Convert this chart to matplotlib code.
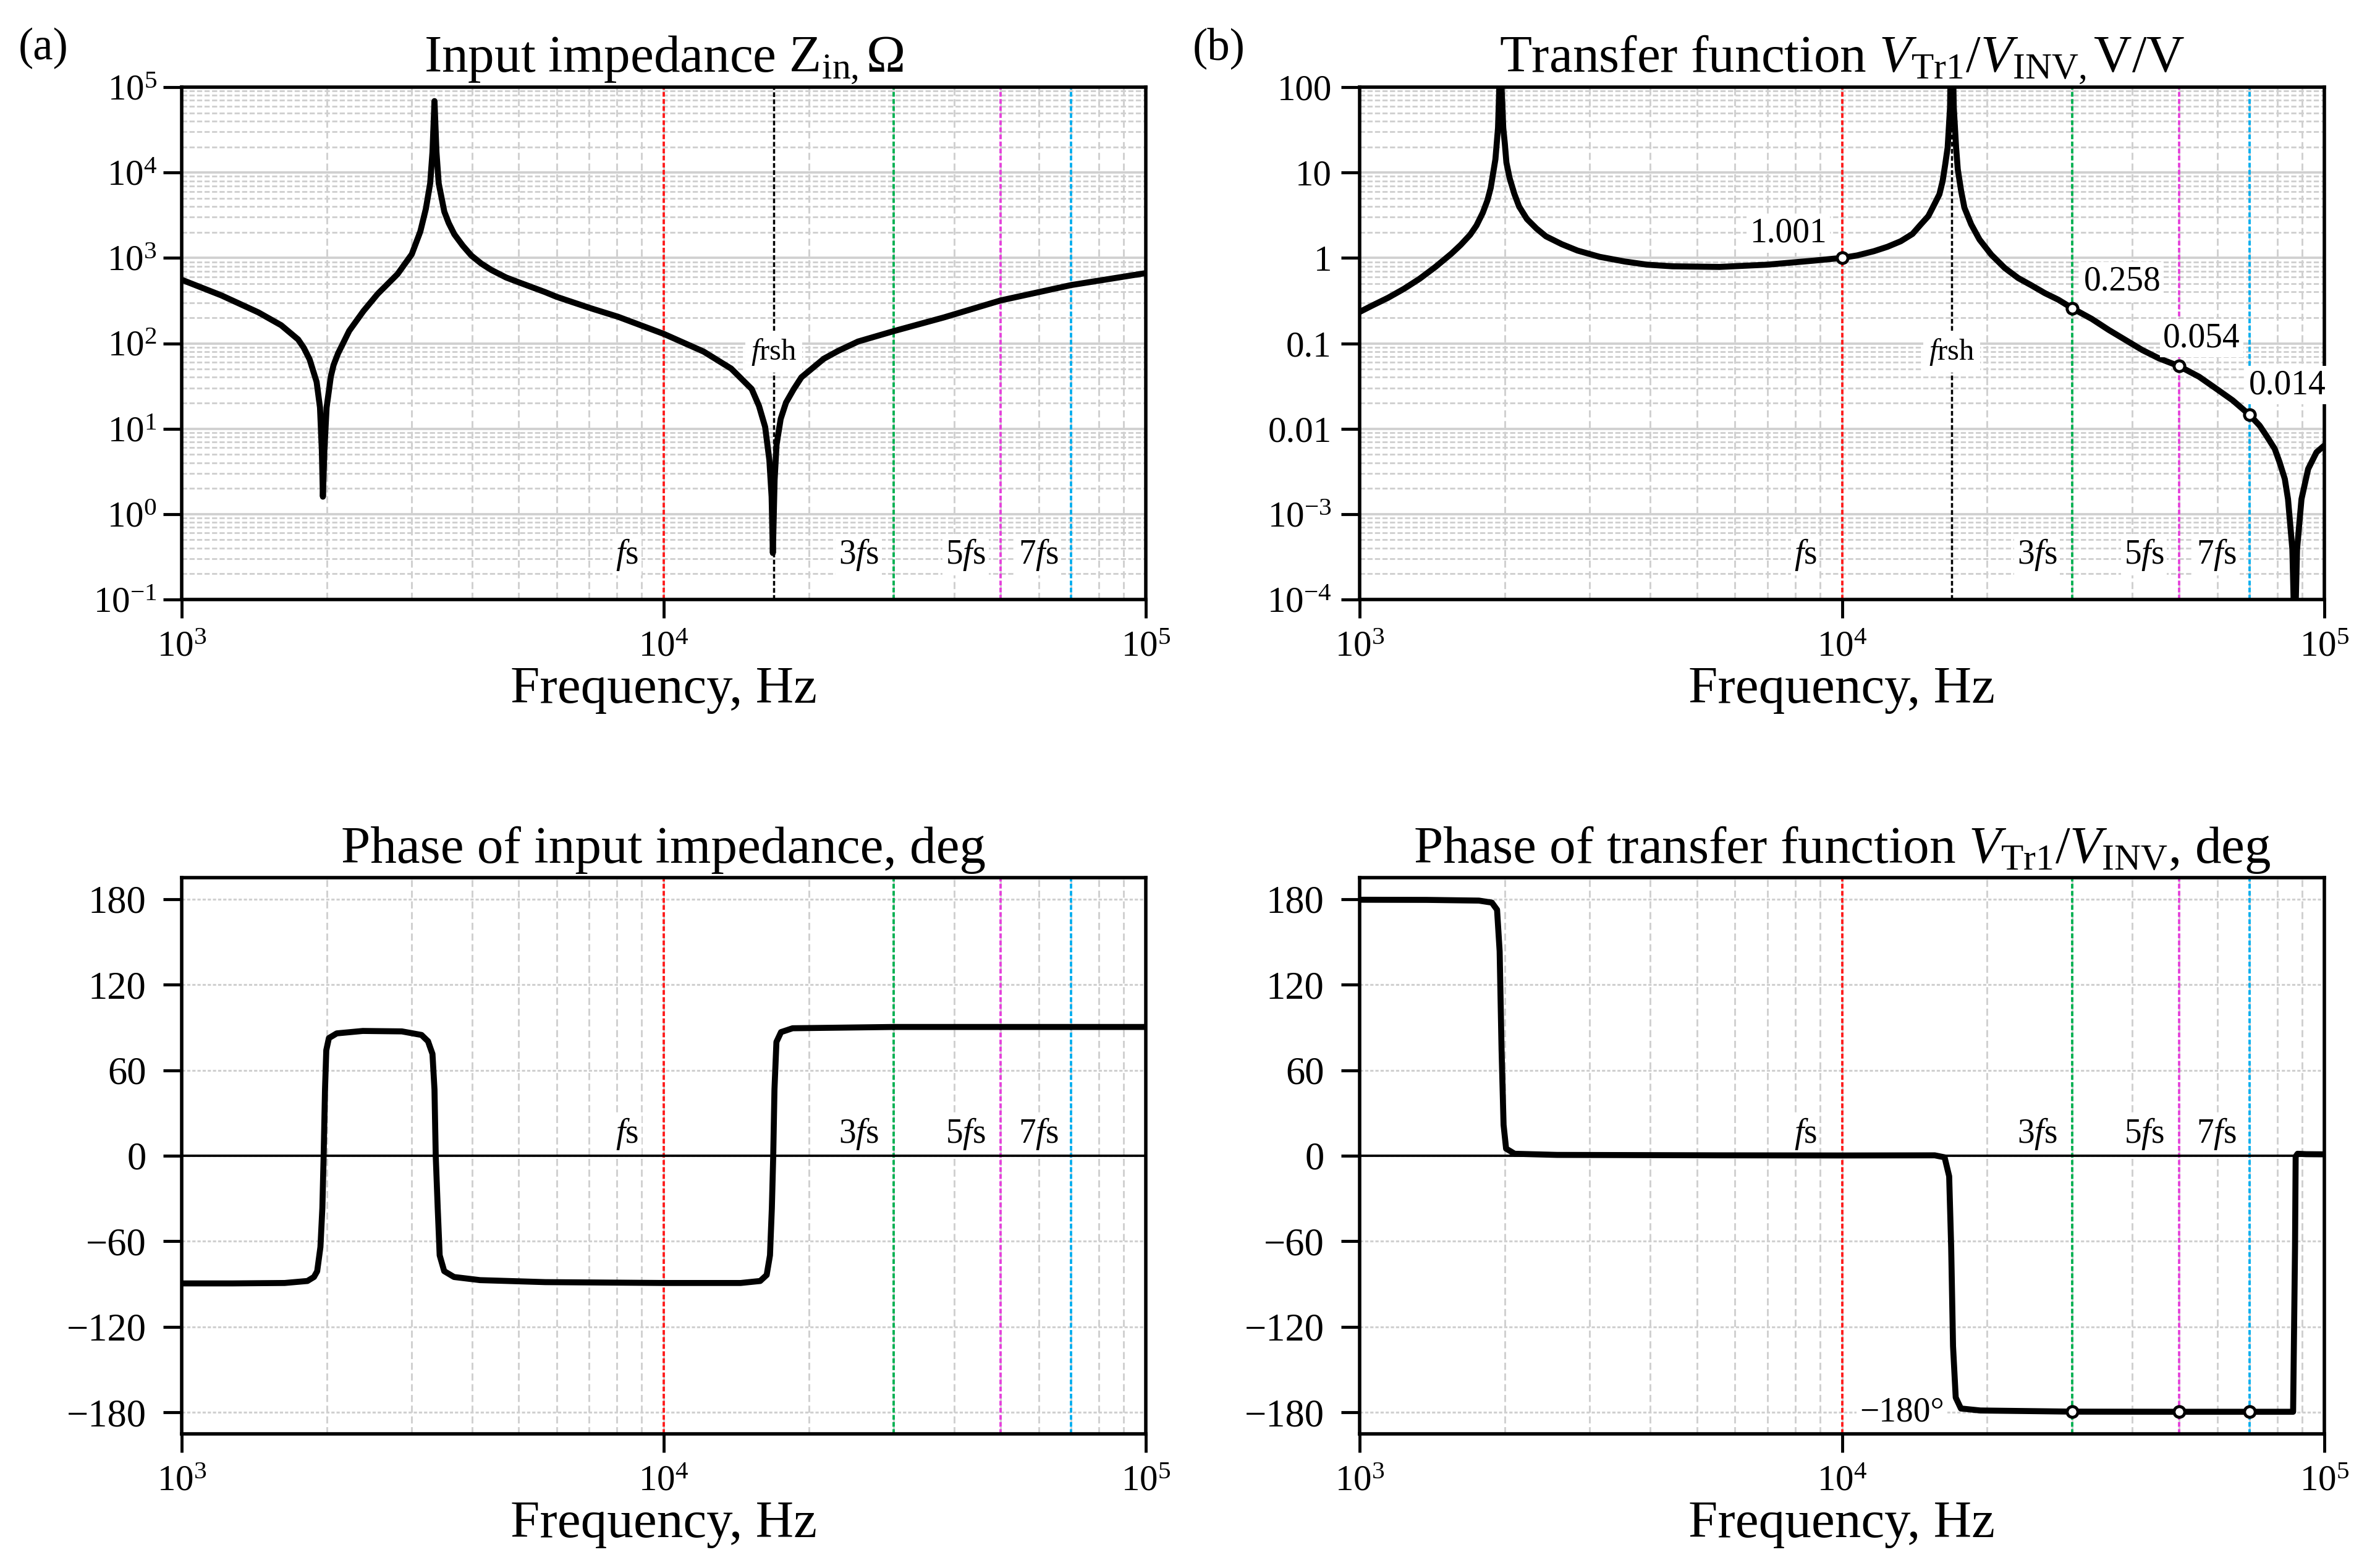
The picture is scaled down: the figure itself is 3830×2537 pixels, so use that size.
import numpy as np
import matplotlib
matplotlib.use("Agg")
import matplotlib.pyplot as plt
from matplotlib.ticker import FixedLocator, LogLocator, NullFormatter

plt.rcParams.update({
    "font.family": ["Liberation Serif", "DejaVu Serif"],
    "mathtext.fontset": "custom",
    "mathtext.rm": "Liberation Serif",
    "mathtext.it": "Liberation Serif:italic",
    "mathtext.bf": "Liberation Serif:bold",
    "lines.scale_dashes": False,
    "axes.unicode_minus": True,
})

# ---------------- data ----------------
# (a) input impedance magnitude, Ohm
freq_zin = [1000, 1209, 1443, 1608, 1744, 1792, 1842, 1905, 1936, 1953, 1963, 1977, 1998,
            2039, 2066, 2110, 2226, 2383, 2550, 2804, 3001, 3126, 3210, 3277, 3313, 3345,
            3377, 3413, 3506, 3580, 3678, 3830, 3990, 4183, 4385, 4710, 5023, 5675, 5990,
            7048, 8034, 10000, 12100, 13800, 15220, 15760, 16230, 16560, 16740, 16840,
            16980, 17140, 17480, 17930, 18600, 19300, 21480, 23000, 25300, 30000, 38110,
            50000, 70000, 100000]
zin_mag = [555, 364, 230, 163, 111, 88.5, 65, 35.3, 17.7, 5.6, 1.6, 5.6, 17.7,
           41, 55.8, 76, 140, 239, 379, 647, 1104, 2037, 3757, 7480, 17350, 68700,
           17350, 7480, 3480, 2564, 1890, 1390, 1065, 859, 725, 590, 514, 398, 351,
           258, 205, 129, 80, 50.6, 29.2, 18.5, 10.5, 4.3, 1.6, 0.35,
           2.5, 6.5, 13.0, 20.2, 29, 40, 66, 81.5, 105, 139, 201,
           318, 481, 664]

# (b) transfer function magnitude, V/V
freq_tf = [1000, 1062, 1146, 1235, 1331, 1436, 1549, 1620, 1695, 1747, 1800, 1841, 1870,
           1912, 1936, 1947, 1955, 1970, 1985, 2000, 2015, 2046, 2093, 2141, 2223, 2326,
           2434, 2624, 2829, 3145, 3546, 3941, 4446, 5573, 6987, 8759, 10000, 10750,
           11650, 12420, 13240, 14000, 14570, 15100, 15540, 15920, 16170, 16370, 16560,
           16750, 16880, 17050, 17240, 17380, 17660, 17940, 18530, 19280, 20400, 21750,
           23180, 24710, 26340, 28090, 30000, 32960, 35720, 41910, 45400, 50000, 55000,
           59600, 64560, 70000, 73400, 75770, 78900, 80760, 82800, 84070, 85840, 86800,
           87780, 89660, 92560, 96330, 100000]
tf_mag = [0.233, 0.277, 0.342, 0.434, 0.569, 0.785, 1.12, 1.42, 1.87, 2.40, 3.38, 4.74, 6.65,
          14.3, 33.3, 92, 1000, 92, 33.3, 21.8, 13.1, 8.6, 5.62, 4.0, 2.85, 2.21,
          1.79, 1.45, 1.22, 1.03, 0.908, 0.834, 0.798, 0.785, 0.833, 0.931, 1.001, 1.07,
          1.20, 1.35, 1.57, 1.91, 2.47, 3.09, 4.24, 5.56, 7.98, 12.5, 19.7,
          58, 1000, 58, 19.7, 10.9, 6.08, 3.87, 2.47, 1.64, 1.09, 0.762,
          0.582, 0.477, 0.387, 0.324, 0.258, 0.193, 0.1436, 0.0836, 0.0667, 0.054, 0.0406,
          0.0296, 0.0215, 0.0145, 0.0109, 0.00835, 0.00582, 0.00405, 0.00258, 0.0015,
          3.87e-4, 3e-5, 3.87e-4, 1.5e-3, 3.38e-3, 5.31e-3, 6.37e-3]

# (c) phase of input impedance, deg
freq_zin_ph = [1000, 1275, 1635, 1823, 1881, 1910, 1940, 1958, 1970, 1983, 1995, 2020,
               2097, 2375, 2862, 3144, 3243, 3313, 3345, 3365, 3397, 3429, 3504, 3672,
               4158, 5677, 10000, 14440, 15850, 16350, 16610, 16760, 16870, 16970, 17130,
               17510, 18510, 30000, 100000]
zin_phase = [-89.5, -89.5, -89.2, -87.8, -85.0, -81.0, -64.0, -36.6, 0.0, 46.5, 74.0, 82.5,
             85.8, 87.5, 87.2, 84.7, 80.3, 71.4, 46.5, 0.0, -36.6, -69.8, -80.9, -85.0,
             -87.2, -88.6, -89.2, -89.2, -87.8, -83.6, -69.8, -36.6, 0.0, 46.5, 79.8,
             86.7, 89.4, 90.3, 90.3]

# (d) phase of transfer function, deg
freq_tf_ph = [1000, 1377, 1767, 1880, 1927, 1951, 1969, 1988, 2012, 2096, 2566, 5582,
              10000, 15570, 16320, 16680, 16840, 16990, 17210, 17640, 19360, 30000, 50000,
              70000, 86140, 86940, 87200, 88010, 91670, 100000]
tf_phase = [179.5, 179.4, 178.9, 177.5, 172.5, 143.4, 74.2, 21.6, 5.0, 1.4, 0.6, 0.3,
            0.2, 0.3, -1.1, -14.4, -64.2, -133.5, -169.5, -177.2, -178.6, -179.4, -179.5,
            -179.5, -179.5, -64.0, -0.5, 1.4, 1.1, 1.0]

f_s = 10e3
f_rsh = 16.9e3
harmonic_orders = [1, 3, 5, 7]
harmonic_labels = [r"$f$s", r"3$f$s", r"5$f$s", r"7$f$s"]
harmonic_colors = ["#ff1a1a", "#00b050", "#e640dc", "#00aef0"]

tf_marker_freqs = [10e3, 30e3, 50e3, 70e3]
tf_marker_vals = [1.001, 0.258, 0.054, 0.0145]
tf_marker_texts = ["1.001", "0.258", "0.054", "0.014"]
ph_marker_freqs = [30e3, 50e3, 70e3]
ph_marker_vals = [-179.5, -179.5, -179.5]

zin_yticks = [1e-1, 1e0, 1e1, 1e2, 1e3, 1e4, 1e5]
zin_yticklabels = [r"$10^{-1}$", r"$10^{0}$", r"$10^{1}$", r"$10^{2}$", r"$10^{3}$",
                   r"$10^{4}$", r"$10^{5}$"]
tf_yticks = [1e-4, 1e-3, 1e-2, 1e-1, 1e0, 1e1, 1e2]
tf_yticklabels = [r"$10^{-4}$", r"$10^{-3}$", "0.01", "0.1", "1", "10", "100"]
ph_yticks = [-180, -120, -60, 0, 60, 120, 180]
xticks = [1e3, 1e4, 1e5]
xticklabels = [r"$10^{3}$", r"$10^{4}$", r"$10^{5}$"]

titles = [r"Input impedance Z$_{\mathrm{in,}}$Ω",
          r"Transfer function $V_{\mathrm{Tr1}}/V_{\mathrm{INV,}}$V/V",
          "Phase of input impedance, deg",
          r"Phase of transfer function $V_{\mathrm{Tr1}}/V_{\mathrm{INV}}$, deg"]

# ---------------- figure ----------------
W, H = 3830, 2537
DPI = 250
fig = plt.figure(figsize=(W / DPI, H / DPI), dpi=DPI)

def px_axes(x0, x1, ytop, ybot):
    return fig.add_axes([x0 / W, 1 - ybot / H, (x1 - x0) / W, (ybot - ytop) / H])

axA = px_axes(294, 1854, 141, 970)
axB = px_axes(2200, 3761, 141, 970)
axC = px_axes(294, 1854, 1420, 2320)
axD = px_axes(2200, 3761, 1420, 2320)

GRID = "#d0d0d0"
TXT = 16
LW = 2.8
LBL_OFF = [0.886, 0.93, 0.93, 0.94]
box = dict(facecolor="white", edgecolor="none", pad=1.5)

def common(ax, title):
    ax.set_xscale("log")
    ax.set_xlim(1e3, 1e5)
    ax.xaxis.set_major_locator(FixedLocator(xticks))
    ax.set_xticklabels(xticklabels)
    ax.xaxis.set_minor_locator(LogLocator(base=10, subs=np.arange(2, 10), numticks=100))
    ax.xaxis.set_minor_formatter(NullFormatter())
    ax.set_axisbelow(True)
    ax.grid(which="both", axis="x", color=GRID, lw=0.85, ls=(0, (3.3, 1.7)))
    ax.tick_params(axis="both", which="major", direction="out", length=8.5, width=1.4,
                   labelsize=17, pad=3, color="black")
    ax.tick_params(axis="x", which="major", pad=6)
    ax.tick_params(which="minor", length=0)
    for sp in ax.spines.values():
        sp.set_linewidth(1.6)
    ax.set_xlabel("Frequency, Hz", fontsize=24.5, labelpad=1)
    ax.set_title(title, fontsize=24.5, pad=7)

def log_y(ax, lo, hi, ticks, labels, pad):
    ax.set_yscale("log")
    ax.set_ylim(lo, hi)
    ax.yaxis.set_major_locator(FixedLocator(ticks))
    ax.set_yticklabels(labels)
    ax.yaxis.set_minor_locator(LogLocator(base=10, subs=np.arange(2, 10), numticks=100))
    ax.yaxis.set_minor_formatter(NullFormatter())
    ax.tick_params(axis="y", which="major", pad=pad)
    ax.grid(which="major", axis="y", color=GRID, lw=1.1, ls="-")
    ax.grid(which="minor", axis="y", color=GRID, lw=0.85, ls=(0, (2.4, 1.1)))

def ph_y(ax):
    ax.set_ylim(-195, 195)
    ax.yaxis.set_major_locator(FixedLocator(ph_yticks))
    ax.tick_params(axis="y", which="major", pad=8, labelsize=18)
    ax.grid(which="major", axis="y", color=GRID, lw=0.9, ls=(0, (1.5, 0.9)))
    ax.axhline(0, color="black", lw=1.1, zorder=2.5)

def harmonics(ax, ylab, with_rsh, yrsh=0.483):
    tr = ax.get_xaxis_transform()
    for n, lab, col, off in zip(harmonic_orders, harmonic_labels, harmonic_colors, LBL_OFF):
        f = n * f_s
        ax.axvline(f, color=col, lw=1.1, ls=(0, (2.2, 1.1)), zorder=1.5)
        ax.text(f * off, ylab, lab, transform=tr, ha="right", va="baseline",
                fontsize=TXT, bbox=box, zorder=2)
    if with_rsh:
        ax.axvline(f_rsh, color="black", lw=1.0, ls=(0, (2.2, 1.1)), zorder=1.5)
        ax.text(f_rsh, yrsh, r"$f$rsh", transform=tr, ha="center", va="center",
                fontsize=14, bbox=dict(facecolor="white", edgecolor="none", pad=2.5),
                zorder=2)

def curve(ax, x, y):
    ax.plot(x, y, color="black", lw=LW, solid_joinstyle="round",
            solid_capstyle="round", zorder=3)

# (a)
common(axA, titles[0])
log_y(axA, 1e-1, 1e5, zin_yticks, zin_yticklabels, 3)
harmonics(axA, 0.07, True)
curve(axA, freq_zin, zin_mag)

# (b)
common(axB, titles[1])
log_y(axB, 1e-4, 1e2, tf_yticks, tf_yticklabels, 4.5)
harmonics(axB, 0.07, True)
curve(axB, freq_tf, tf_mag)
axB.plot(tf_marker_freqs, tf_marker_vals, ls="none", marker="o", ms=5, mfc="white",
         mec="black", mew=1.4, zorder=4)
ann_pos = [(9300, 1.93, "right"), (31700, 0.53, "left"), (46300, 0.1146, "left"),
           (69700, 0.0324, "left")]
for (x, y, ha), t in zip(ann_pos, tf_marker_texts):
    axB.text(x, y, t, ha=ha, va="center", fontsize=TXT, bbox=box, zorder=6,
             clip_on=False)

# (c)
common(axC, titles[2])
ph_y(axC)
harmonics(axC, (9 + 195) / 390, False)
curve(axC, freq_zin_ph, zin_phase)

# (d)
common(axD, titles[3])
ph_y(axD)
harmonics(axD, (9 + 195) / 390, False)
curve(axD, freq_tf_ph, tf_phase)
axD.plot(ph_marker_freqs, ph_marker_vals, ls="none", marker="o", ms=5, mfc="white",
         mec="black", mew=1.4, zorder=4)
axD.text(16300, -180, "−180°", ha="right", va="center", fontsize=TXT, bbox=box,
         zorder=2)

fig.text(30 / W, 1 - 78 / H, "(a)", fontsize=21, ha="left", va="center")
fig.text(1930 / W, 1 - 78 / H, "(b)", fontsize=21, ha="left", va="center")

fig.savefig("out.png", dpi=DPI)
